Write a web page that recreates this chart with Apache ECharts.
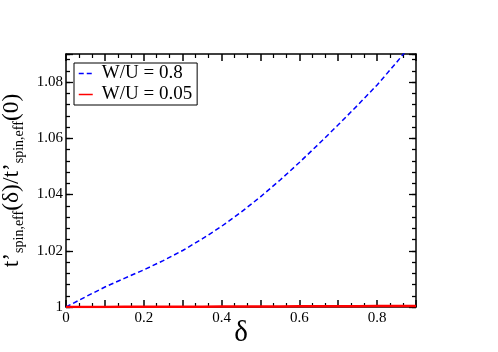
<!DOCTYPE html>
<html>
<head>
<meta charset="utf-8">
<script src="https://cdn.jsdelivr.net/npm/echarts@6/dist/echarts.min.js"></script>
<style>
  html, body { margin: 0; padding: 0; background: #fff; }
  #main { width: 498px; height: 352px; }
</style>
</head>
<body>
<div id="main"></div>
<script>
// data
var deltas = [0, 0.05, 0.1, 0.15, 0.2, 0.25, 0.3, 0.35, 0.4, 0.45, 0.5, 0.55, 0.6, 0.65, 0.7, 0.75, 0.8, 0.85, 0.9];
var wu08 = [1.0000, 1.0036, 1.0071, 1.0102, 1.0132, 1.0165, 1.0201, 1.0242, 1.0287, 1.0337, 1.0392, 1.0451, 1.0514, 1.0580, 1.0648, 1.0718, 1.0790, 1.0870, 1.0955];
var wu005 = [1.0000, 1.0000, 1.0000, 1.0001, 1.0001, 1.0001, 1.0001, 1.0001, 1.0002, 1.0002, 1.0002, 1.0002, 1.0003, 1.0003, 1.0003, 1.0003, 1.0004, 1.0004, 1.0004];
var xTickLabels = ["0", "0.2", "0.4", "0.6", "0.8"];
var yTickLabels = ["1", "1.02", "1.04", "1.06", "1.08"];

var serif = "Liberation Serif";

function pairs(xs, ys) {
  var out = [];
  for (var i = 0; i < xs.length; i++) out.push([xs[i], ys[i]]);
  return out;
}

function pickLabel(labels) {
  return function (v) {
    var s = String(Math.round(v * 1000) / 1000);
    return labels.indexOf(s) >= 0 ? s : "";
  };
}

var chart = echarts.init(document.getElementById("main"), null, { renderer: "canvas" });

var frameLine = { lineStyle: { color: "#000", width: 1.5 } };

function xAx(pos, withLabels) {
  return {
    type: "value",
    position: pos,
    min: 0,
    max: 0.9,
    interval: 0.1,
    axisLine: frameLine,
    axisTick: { inside: true, length: 7, lineStyle: { color: "#000", width: 1.5 } },
    minorTick: { show: true, splitNumber: 3, length: 4, lineStyle: { color: "#000", width: 1.2 } },
    splitLine: { show: false },
    axisLabel: {
      show: withLabels,
      formatter: pickLabel(xTickLabels),
      fontFamily: serif,
      fontSize: 15,
      color: "#000",
      margin: 4
    },
    name: withLabels ? "δ" : "",
    nameLocation: "middle",
    nameGap: 12,
    nameMoveOverlap: false,
    nameTextStyle: { fontFamily: serif, fontSize: 29, color: "#000" }
  };
}

function yAx(pos, interval, tickLen, withLabels) {
  return {
    type: "value",
    position: pos,
    min: 1,
    max: 1.09,
    interval: interval,
    axisLine: withLabels ? frameLine : { show: pos === "right" && interval === 0.02, lineStyle: { color: "#000", width: 1.5 } },
    axisTick: { inside: true, length: tickLen, lineStyle: { color: "#000", width: 1.3 } },
    splitLine: { show: false },
    axisLabel: {
      show: withLabels,
      formatter: pickLabel(yTickLabels),
      fontFamily: serif,
      fontSize: 15,
      color: "#000",
      margin: 3
    },
    name: withLabels ? "{m|t’}{s|spin,eff}{m|(δ)/t’}{s|spin,eff}{m|(0)}" : "",
    nameLocation: "middle",
    nameGap: 36,
    nameTextStyle: {
      color: "#000",
      rich: {
        m: { fontFamily: serif, fontSize: 23.5, lineHeight: 28, color: "#000" },
        s: { fontFamily: serif, fontSize: 14, lineHeight: 12, verticalAlign: "bottom", color: "#000" }
      }
    }
  };
}

var option = {
  backgroundColor: "#fff",
  animation: false,
  grid: {
    left: 66,
    right: 82,
    top: 54,
    bottom: 45,
    outerBoundsMode: "none"
  },
  legend: {
    orient: "vertical",
    left: 74,
    top: 63,
    backgroundColor: "#fff",
    borderColor: "#000",
    borderWidth: 1,
    borderRadius: 0,
    padding: [1, 5, 1, 4],
    itemWidth: 14,
    itemHeight: 12,
    itemGap: 2,
    itemStyle: { opacity: 0 },
    lineStyle: { width: 1.5 },
    textStyle: { fontFamily: serif, fontSize: 19, lineHeight: 16, color: "#000", padding: [0, 0, 0, 4] },
    data: ["W/U = 0.8", "W/U = 0.05"]
  },
  xAxis: [xAx("bottom", true), xAx("top", false)],
  yAxis: [
    yAx("left", 0.02, 7, true),
    yAx("left", 0.004, 4, false),
    yAx("right", 0.02, 7, false),
    yAx("right", 0.004, 4, false)
  ],
  series: [
    {
      name: "W/U = 0.8",
      type: "line",
      data: pairs(deltas, wu08),
      symbol: "none",
      lineStyle: { color: "#0000ff", width: 1.5, type: [5, 3] },
      itemStyle: { color: "#0000ff" },
      z: 3
    },
    {
      name: "W/U = 0.05",
      type: "line",
      data: pairs(deltas, wu005),
      symbol: "none",
      lineStyle: { color: "#ff0000", width: 2.5 },
      itemStyle: { color: "#ff0000" },
      z: 4
    }
  ]
};

chart.setOption(option);
</script>
</body>
</html>
